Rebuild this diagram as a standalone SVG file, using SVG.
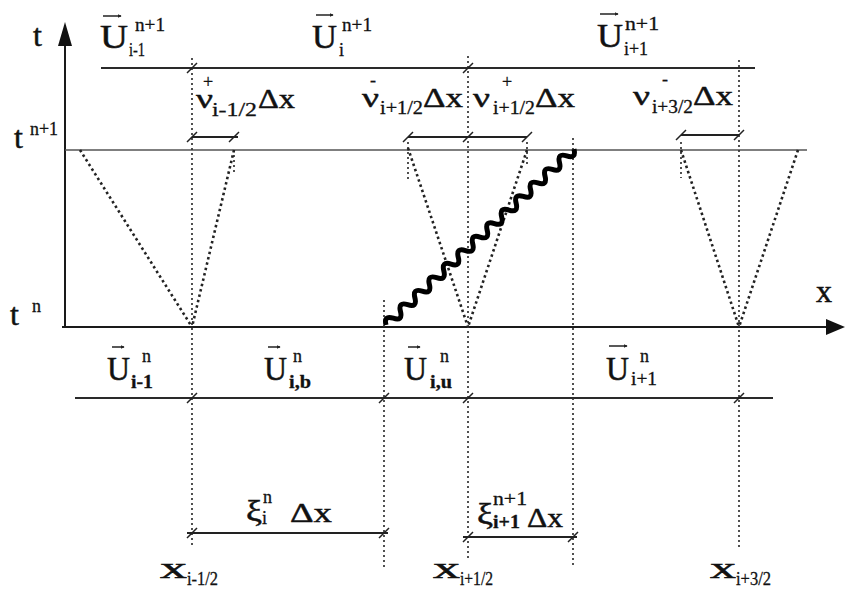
<svg xmlns="http://www.w3.org/2000/svg" width="845" height="590" viewBox="0 0 845 590">
<defs>
<style>
.ax{stroke:#1a1a1a;stroke-width:2;fill:none}
.hl{stroke:#2a2a2a;stroke-width:2;fill:none}
.thin{stroke:#555;stroke-width:1.3;fill:none}
.dot{stroke:#333;stroke-width:1.7;stroke-dasharray:2 3;fill:none}
.vd{stroke:#222;stroke-width:2.6;stroke-dasharray:2.5 3;fill:none}
.tk{stroke:#222;stroke-width:1.5;fill:none}
.dim{stroke:#222;stroke-width:1.8;fill:none}
.wave{stroke:#000;stroke-width:5;fill:none;stroke-linejoin:round}
.vec{stroke:#222;stroke-width:1.5;fill:none;marker-end:url(#vh)}
text{font-family:"Liberation Serif","Times New Roman",serif;fill:#111;stroke:#111;stroke-width:0.5}
.m{font-size:34px}
.n{font-size:28px}
.s{font-size:18px;stroke-width:0.3}
.b{font-weight:bold}
</style>
<marker id="vh" viewBox="0 0 6 6" refX="5" refY="3" markerWidth="4" markerHeight="4" orient="auto" markerUnits="userSpaceOnUse"><path d="M0,0 L6,3 L0,6 z" fill="#222"/></marker>
</defs>
<rect width="845" height="590" fill="#fff"/>

<g id="axes">
<line class="ax" x1="65" y1="40" x2="65" y2="328"/>
<path d="M65,22 L72,46 L58,46 z" fill="#111"/>
<line class="ax" x1="62" y1="327" x2="830" y2="327"/>
<path d="M845,327 L826,319 L826,335 z" fill="#111"/>
<line class="thin" x1="65" y1="150" x2="807" y2="150"/>
<text x="33" y="46" style="font-size:32px">t</text>
<text x="816" y="302" style="font-size:32px">x</text>
<text x="14" y="148" style="font-size:32px">t</text>
<text x="30" y="135" class="s" textLength="28" lengthAdjust="spacingAndGlyphs">n+1</text>
<text x="10" y="325" style="font-size:32px">t</text>
<text x="32" y="312" class="s">n</text>
</g>

<g id="connectors">
<line class="hl" x1="101" y1="68" x2="755" y2="68"/>
<line class="hl" x1="75" y1="398" x2="773" y2="398"/>
<line class="dot" x1="192" y1="58" x2="192" y2="548"/>
<line class="dot" x1="384" y1="300" x2="384" y2="567"/>
<line class="dot" x1="468" y1="56" x2="468" y2="561"/>
<line class="dot" x1="573" y1="138" x2="573" y2="568"/>
<line class="dot" x1="739" y1="60" x2="739" y2="548"/>
<line class="dot" x1="234" y1="150" x2="234" y2="172"/>
<line class="dot" x1="408" y1="142" x2="408" y2="180"/>
<line class="dot" x1="527" y1="142" x2="527" y2="165"/>
<line class="dot" x1="681" y1="142" x2="681" y2="178"/>
<line class="vd" x1="80" y1="150" x2="192" y2="327"/>
<line class="vd" x1="234" y1="150" x2="192" y2="327"/>
<line class="vd" x1="408" y1="148" x2="468" y2="327"/>
<line class="vd" x1="527" y1="150" x2="468" y2="327"/>
<line class="vd" x1="681" y1="150" x2="739" y2="327"/>
<line class="vd" x1="798" y1="150" x2="739" y2="327"/>
<line class="dim" x1="192" y1="137" x2="238" y2="137"/>
<line class="dim" x1="408" y1="137" x2="527" y2="137"/>
<line class="dim" x1="681" y1="135" x2="739" y2="135"/>
<line class="dim" x1="187" y1="533" x2="388" y2="533"/>
<line class="dim" x1="463" y1="537" x2="577" y2="537"/>
<path class="tk" d="M187,73 l10,-10 M463,73 l10,-10 M187,142 l10,-10 M229,142 l10,-10 M403,142 l10,-10 M463,142 l10,-10 M522,142 l10,-10 M676,140 l10,-10 M734,140 l10,-10 M187,403 l10,-10 M379,403 l10,-10 M463,403 l10,-10 M734,403 l10,-10 M187,538 l10,-10 M379,538 l10,-10 M463,542 l10,-10 M568,542 l10,-10"/>
<path class="wave" transform="translate(386,325) rotate(-43.1)" d="M0,0 q4.95,-9 9.9,0 t9.9,0 t9.9,0 t9.9,0 t9.9,0 t9.9,0 t9.9,0 t9.9,0 t9.9,0 t9.9,0 t9.9,0 t9.9,0 t9.9,0 t9.9,0 t9.9,0 t9.9,0 t9.9,0 t9.9,0 t9.9,0 t9.9,0 t9.9,0 t9.9,0 t9.9,0 t9.9,0 t9.9,0 t9.9,0"/>
</g>

<g id="U_im1_np1">
<line class="vec" x1="103" y1="16" x2="121" y2="16"/>
<text x="100" y="48" class="m" textLength="28" lengthAdjust="spacingAndGlyphs">U</text>
<text x="135" y="31" class="s" textLength="30" lengthAdjust="spacingAndGlyphs">n+1</text>
<text x="129" y="56" class="s" textLength="16" lengthAdjust="spacingAndGlyphs">i-1</text>
</g>
<g id="U_i_np1">
<line class="vec" x1="316" y1="15" x2="333" y2="15"/>
<text x="312" y="48" class="m" textLength="25" lengthAdjust="spacingAndGlyphs">U</text>
<text x="342" y="31" class="s" textLength="30" lengthAdjust="spacingAndGlyphs">n+1</text>
<text x="339" y="56" class="s">i</text>
</g>
<g id="U_ip1_np1">
<line class="vec" x1="600" y1="14" x2="618" y2="14"/>
<text x="597" y="47" class="m" textLength="26" lengthAdjust="spacingAndGlyphs">U</text>
<text x="625" y="30" class="s" textLength="34" lengthAdjust="spacingAndGlyphs">n+1</text>
<text x="624" y="55" class="s" textLength="24" lengthAdjust="spacingAndGlyphs">i+1</text>
</g>

<g id="nu_plus_im12">
<text x="196" y="108" class="n" textLength="17" lengthAdjust="spacingAndGlyphs">ν</text>
<text x="203" y="88" class="s">+</text>
<text x="212" y="116" class="s" textLength="45" lengthAdjust="spacingAndGlyphs">i-1/2</text>
<text x="258" y="108" class="n" textLength="37" lengthAdjust="spacingAndGlyphs">Δx</text>
</g>
<g id="nu_minus_ip12">
<text x="362" y="107" class="n" textLength="17" lengthAdjust="spacingAndGlyphs">ν</text>
<text x="370" y="86" class="s">-</text>
<text x="380" y="114" class="s" textLength="43" lengthAdjust="spacingAndGlyphs">i+1/2</text>
<text x="423" y="107" class="n" textLength="40" lengthAdjust="spacingAndGlyphs">Δx</text>
</g>
<g id="nu_plus_ip12">
<text x="473" y="107" class="n" textLength="17" lengthAdjust="spacingAndGlyphs">ν</text>
<text x="502" y="88" class="s">+</text>
<text x="493" y="114" class="s" textLength="42" lengthAdjust="spacingAndGlyphs">i+1/2</text>
<text x="535" y="107" class="n" textLength="40" lengthAdjust="spacingAndGlyphs">Δx</text>
</g>
<g id="nu_minus_ip32">
<text x="633" y="105" class="n" textLength="17" lengthAdjust="spacingAndGlyphs">ν</text>
<text x="662" y="85" class="s">-</text>
<text x="652" y="113" class="s" textLength="41" lengthAdjust="spacingAndGlyphs">i+3/2</text>
<text x="693" y="105" class="n" textLength="40" lengthAdjust="spacingAndGlyphs">Δx</text>
</g>

<g id="U_im1_n">
<line class="vec" x1="112" y1="347" x2="124" y2="347"/>
<text x="107" y="380" class="m" textLength="23" lengthAdjust="spacingAndGlyphs">U</text>
<text x="142" y="362" class="s">n</text>
<text x="131" y="388" class="s b" textLength="22" lengthAdjust="spacingAndGlyphs">i-1</text>
</g>
<g id="U_ib_n">
<line class="vec" x1="268" y1="347" x2="280" y2="347"/>
<text x="264" y="380" class="m" textLength="23" lengthAdjust="spacingAndGlyphs">U</text>
<text x="293" y="362" class="s">n</text>
<text x="289" y="388" class="s b" textLength="22" lengthAdjust="spacingAndGlyphs">i,b</text>
</g>
<g id="U_iu_n">
<line class="vec" x1="408" y1="347" x2="420" y2="347"/>
<text x="404" y="380" class="m" textLength="23" lengthAdjust="spacingAndGlyphs">U</text>
<text x="440" y="362" class="s">n</text>
<text x="430" y="388" class="s b" textLength="22" lengthAdjust="spacingAndGlyphs">i,u</text>
</g>
<g id="U_ip1_n">
<line class="vec" x1="609" y1="346" x2="627" y2="346"/>
<text x="606" y="380" class="m" textLength="23" lengthAdjust="spacingAndGlyphs">U</text>
<text x="640" y="362" class="s">n</text>
<text x="631" y="385" class="s" textLength="26" lengthAdjust="spacingAndGlyphs">i+1</text>
</g>

<g id="xi_i_n">
<text x="246" y="521" style="font-size:30px" textLength="16" lengthAdjust="spacingAndGlyphs">ξ</text>
<text x="263" y="503" class="s">n</text>
<text x="262" y="524" class="s">i</text>
<text x="290" y="522" class="n" textLength="42" lengthAdjust="spacingAndGlyphs">Δx</text>
</g>
<g id="xi_ip1_np1">
<text x="477" y="524" style="font-size:30px" textLength="16" lengthAdjust="spacingAndGlyphs">ξ</text>
<text x="493" y="505" class="s" textLength="34" lengthAdjust="spacingAndGlyphs">n+1</text>
<text x="493" y="528" class="s b" textLength="27" lengthAdjust="spacingAndGlyphs">i+1</text>
<text x="527" y="527" class="n" textLength="36" lengthAdjust="spacingAndGlyphs">Δx</text>
</g>

<g id="x_im12">
<text x="160" y="578" style="font-size:30px" textLength="27" lengthAdjust="spacingAndGlyphs">x</text>
<text x="187" y="585" class="s" textLength="31" lengthAdjust="spacingAndGlyphs">i-1/2</text>
</g>
<g id="x_ip12">
<text x="433" y="578" style="font-size:30px" textLength="27" lengthAdjust="spacingAndGlyphs">x</text>
<text x="460" y="585" class="s" textLength="33" lengthAdjust="spacingAndGlyphs">i+1/2</text>
</g>
<g id="x_ip32">
<text x="710" y="578" style="font-size:30px" textLength="26" lengthAdjust="spacingAndGlyphs">x</text>
<text x="736" y="585" class="s" textLength="35" lengthAdjust="spacingAndGlyphs">i+3/2</text>
</g>
</svg>
